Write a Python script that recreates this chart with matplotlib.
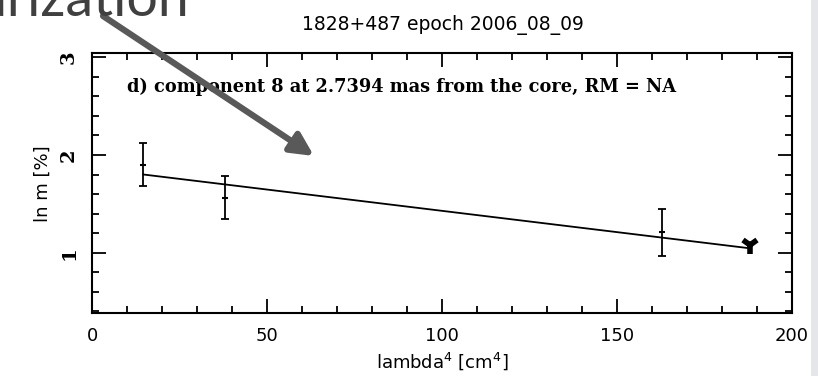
import matplotlib
matplotlib.use("Agg")
import matplotlib.pyplot as plt
from matplotlib.patches import FancyArrowPatch, Rectangle
from matplotlib.ticker import MultipleLocator

# measured polarization vs lambda^4
lam4 = [14.7, 38.0, 163.0]
ln_m = [1.90, 1.56, 1.21]
ln_m_err = [0.22, 0.22, 0.24]

# upper limit point
lim_x = [188.0]
lim_y = [1.08]

# linear fit ln m = a + b * lambda^4
fit_a = 1.864
fit_b = -0.004357
fit_range = [14.7, 188.0]

title = "1828+487 epoch 2006_08_09"
note = "d) component 8 at 2.7394 mas from the core, RM = NA"

fig = plt.figure(figsize=(8.18, 3.76), dpi=100)
fig.patch.set_facecolor("white")

# grey strip on the right edge of the slide
fig.add_artist(Rectangle((811 / 818, 0), 7 / 818, 1, transform=fig.transFigure,
                         facecolor="#e4e6e9", edgecolor="none", zorder=0))

ax = fig.add_axes([92 / 818, 1 - 313.3 / 376, 700 / 818, 260 / 376])
ax.set_xlim(0, 200)
ax.set_ylim(0.38, 3.04)

ax.errorbar(lam4, ln_m, yerr=ln_m_err, fmt="none", ecolor="black",
            elinewidth=1.3, capsize=3, capthick=1.3)
ax.plot(lam4, ln_m, linestyle="none", marker="_", markersize=5,
        markeredgewidth=1.5, color="black")
ax.plot(lim_x, lim_y, linestyle="none", marker="1", markersize=13,
        markeredgewidth=4, color="black")

fx = fit_range
fy = [fit_a + fit_b * v for v in fx]
ax.plot(fx, fy, color="black", linewidth=1.3)

ax.text(10, 2.70, note, fontsize=12.8, fontfamily="DejaVu Serif",
        fontweight="bold", va="center", ha="left")

ax.xaxis.set_major_locator(MultipleLocator(50))
ax.xaxis.set_minor_locator(MultipleLocator(10))
ax.yaxis.set_major_locator(MultipleLocator(1))
ax.yaxis.set_minor_locator(MultipleLocator(0.2))
ax.tick_params(which="both", direction="in", top=True, right=True, width=1.3)
ax.tick_params(which="major", length=10)
ax.tick_params(which="minor", length=5)
ax.tick_params(axis="x", pad=10, labelsize=13)
ax.tick_params(axis="y", pad=10, labelsize=14)
for lbl in ax.get_yticklabels():
    lbl.set_rotation(90)
    lbl.set_va("center")
    lbl.set_fontfamily("DejaVu Serif")
    lbl.set_fontweight("bold")
for sp in ax.spines.values():
    sp.set_linewidth(1.5)

ax.set_xlabel(r"lambda$^4$ [cm$^4$]", fontsize=13, labelpad=4)
ax.set_ylabel("ln m [%]", fontsize=13, labelpad=6)

fig.text(443 / 818, 1 - 25 / 376, title, fontsize=13.5, ha="center", va="center")

# slide heading cut off at the top edge
fig.text(190 / 818, 1 - 16.5 / 376, "Polarization", fontsize=40, color="#404040",
         fontfamily="Lato", fontweight="normal", ha="right", va="baseline")

arrow = FancyArrowPatch((103 / 818, 1 - 16 / 376), (314 / 818, 1 - 156 / 376),
                        transform=fig.transFigure, arrowstyle="-|>",
                        mutation_scale=34, linewidth=4.5, color="#595959",
                        shrinkA=0, shrinkB=0)
fig.add_artist(arrow)

fig.savefig("out.png", dpi=100)
